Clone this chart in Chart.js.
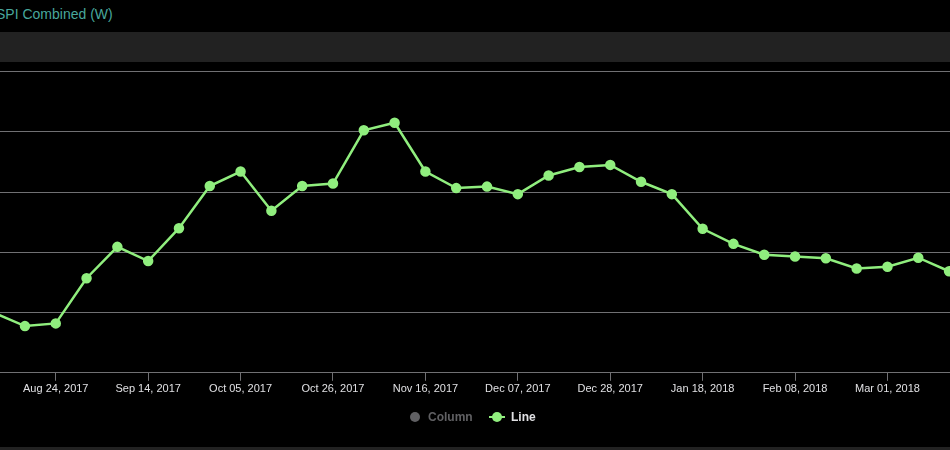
<!DOCTYPE html>
<html>
<head>
<meta charset="utf-8">
<script src="https://cdn.jsdelivr.net/npm/chart.js@4"></script>
<style>
  body { margin: 0; background: #000; width: 950px; height: 450px; overflow: hidden; position: relative; font-family: "Liberation Sans", Arial, sans-serif; }
  .title { position: absolute; left: -4px; top: 6px; font-size: 14px; color: #48a79c; white-space: nowrap; }
  .band { position: absolute; left: 0; top: 32px; width: 950px; height: 30px; background: #222; }
  .band-bottom { position: absolute; left: 0; top: 447px; width: 950px; height: 3px; background: #222; }
  .chart-box { position: absolute; left: 0; top: 62px; width: 950px; height: 385px; }
  .legend { position: absolute; top: 410px; left: 0; width: 950px; height: 14px; font-size: 12px; font-weight: bold; }
  .legend .item { position: absolute; top: 0; line-height: 14px; }
  .dot { position: absolute; width: 10px; height: 10px; border-radius: 50%; top: 2px; }
  .seg { position: absolute; width: 16px; height: 2px; top: 6px; background: #90ee7e; }
</style>
</head>
<body>
<div class="title">SPI Combined (W)</div>
<div class="band"></div>
<div class="chart-box"><canvas id="spiChart"></canvas></div>
<div class="legend">
  <div class="dot" style="left:410px;background:#606063"></div>
  <div class="item" style="left:428px;color:#606063">Column</div>
  <div class="seg" style="left:489px"></div>
  <div class="dot" style="left:492px;background:#90ee7e"></div>
  <div class="item" style="left:511px;color:#e0e0e3">Line</div>
</div>
<div class="band-bottom"></div>

<script>
// weekly categories
const weeks = [
    'Aug 10, 2017', 'Aug 17, 2017', 'Aug 24, 2017', 'Aug 31, 2017',
    'Sep 07, 2017', 'Sep 14, 2017', 'Sep 21, 2017', 'Sep 28, 2017',
    'Oct 05, 2017', 'Oct 12, 2017', 'Oct 19, 2017', 'Oct 26, 2017',
    'Nov 02, 2017', 'Nov 09, 2017', 'Nov 16, 2017', 'Nov 23, 2017',
    'Nov 30, 2017', 'Dec 07, 2017', 'Dec 14, 2017', 'Dec 21, 2017',
    'Dec 28, 2017', 'Jan 04, 2018', 'Jan 11, 2018', 'Jan 18, 2018',
    'Jan 25, 2018', 'Feb 01, 2018', 'Feb 08, 2018', 'Feb 15, 2018',
    'Feb 22, 2018', 'Mar 01, 2018', 'Mar 08, 2018', 'Mar 15, 2018'
];

// Line series values
const lineValues = [
    19.9, 15.5, 16.4, 31.4, 41.8, 37.1, 48.0, 62.0,
    66.8, 53.8, 62.0, 62.8, 80.5, 83.0, 66.8, 61.3,
    61.8, 59.3, 65.5, 68.3, 69.0, 63.4, 59.3, 47.8,
    42.8, 39.2, 38.6, 38.0, 34.6, 35.2, 38.2, 33.7
];

// which weeks get an axis label
const tickWeeks = [2, 5, 8, 11, 14, 17, 20, 23, 26, 29];

const ctx = document.getElementById('spiChart').getContext('2d');
const spiChart = new Chart(ctx, {
    type: 'line',
    data: {
        datasets: [{
            label: 'Line',
            data: lineValues.map((v, i) => ({ x: i, y: v })),
            borderColor: '#90ee7e',
            backgroundColor: '#90ee7e',
            borderWidth: 2.5,
            pointRadius: 4,
            pointHoverRadius: 5,
            tension: 0
        }]
    },
    options: {
        responsive: true,
        maintainAspectRatio: false,
        animation: false,
        layout: { autoPadding: false, padding: { top: 9.5, bottom: 49, left: 0, right: 0 } },
        plugins: {
            legend: { display: false },
            tooltip: { enabled: false }
        },
        scales: {
            x: {
                type: 'linear',
                min: 0.19,
                max: 31.03,
                afterBuildTicks: axis => {
                    axis.ticks = tickWeeks.map(v => ({ value: v }));
                },
                ticks: {
                    autoSkip: false,
                    maxRotation: 0,
                    color: '#e0e0e3',
                    font: { family: 'Liberation Sans', size: 11 },
                    padding: 2,
                    callback: v => weeks[v]
                },
                grid: { drawOnChartArea: false, drawTicks: true, tickLength: 8, color: '#707073' },
                border: { display: true, color: '#707073' }
            },
            y: {
                min: 0,
                max: 100,
                ticks: { display: false, stepSize: 20 },
                grid: { color: '#707073', drawTicks: false },
                border: { display: false }
            }
        }
    }
});
</script>
</body>
</html>
